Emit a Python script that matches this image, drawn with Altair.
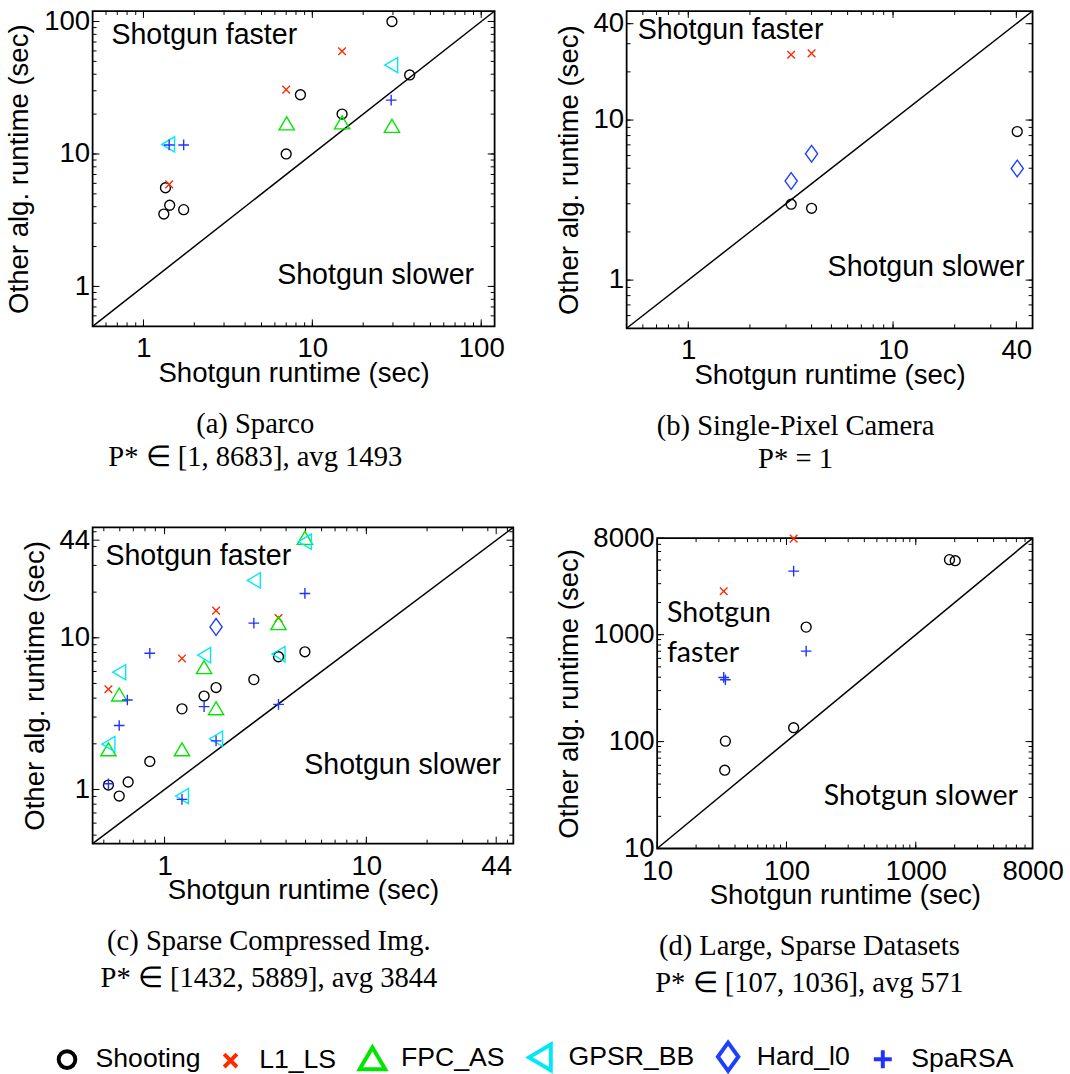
import altair as alt
import pandas as pd

# ---------------- legend / series styling ----------------
ALGS = ["Shooting", "L1_LS", "FPC_AS", "GPSR_BB", "Hard_l0", "SpaRSA"]
COLORS = ["#000000", "#ff2a00", "#00e600", "#00e8f5", "#1f3fff", "#1f33ff"]
SHAPES = [
    "M-0.65,0A0.65,0.65 0 1,0 0.65,0A0.65,0.65 0 1,0 -0.65,0Z",
    "M-0.5,-0.5L0.5,0.5M-0.5,0.5L0.5,-0.5",
    "M0,-0.85L1,0.85L-1,0.85Z",
    "M-0.85,0L0.85,-1L0.85,1Z",
    "M0,-1.1L0.8,0L0,1.1L-0.8,0Z",
    "M-0.7,0L0.7,0M0,-0.7L0,0.7",
]

# ---------------- (a) Sparco ----------------
a_alg = (["Shooting"] * 9 + ["L1_LS"] * 3 + ["FPC_AS"] * 3 + ["GPSR_BB"] * 2 + ["SpaRSA"] * 3)
a_x = [29.6, 37.7, 8.5, 15.0, 7.0, 1.35, 1.43, 1.32, 1.73,
       15.0, 7.0, 1.42,
       7.05, 15.0, 29.6,
       29.3, 1.40,
       29.3, 1.42, 1.73]
a_y = [100, 39.5, 28, 20, 10, 5.56, 4.1, 3.52, 3.8,
       59.6, 30.6, 5.9,
       17.0, 17.3, 16.3,
       46.9, 11.8,
       25.5, 11.7, 11.7]
a_dom = [0.5, 120]
a_ticks = [1, 10, 100]

# ---------------- (b) Single-Pixel Camera ----------------
b_alg = ["Shooting"] * 3 + ["L1_LS"] * 2 + ["Hard_l0"] * 3
b_x = [3.18, 4.0, 40.4, 3.18, 4.0, 3.18, 4.0, 40.4]
b_y = [2.98, 2.81, 8.47, 25.6, 26.1, 4.16, 6.16, 4.98]
b_dom = [0.5, 48]
b_ticks = [1, 10, 40]

# ---------------- (c) Sparse Compressed Img. ----------------
c_alg = (["Shooting"] * 10 + ["L1_LS"] * 4 + ["FPC_AS"] * 7 + ["GPSR_BB"] * 8
         + ["Hard_l0"] * 1 + ["SpaRSA"] * 10)
c_x = [0.527, 0.596, 0.66, 0.845, 1.22, 1.57, 1.80, 2.77, 3.67, 4.96,
       0.527, 1.22, 1.80, 3.67,
       0.527, 0.596, 1.22, 1.57, 1.80, 3.67, 4.96,
       0.527, 0.596, 1.22, 1.57, 1.80, 2.77, 3.67, 4.96,
       1.80,
       0.527, 0.596, 0.654, 0.845, 1.22, 1.57, 1.80, 2.77, 3.67, 4.96]
c_y = [1.07, 0.905, 1.12, 1.53, 3.4, 4.13, 4.7, 5.3, 7.5, 8.08,
       4.58, 7.31, 15.1, 13.5,
       1.84, 4.23, 1.84, 6.4, 3.43, 12.5, 45.6,
       1.99, 5.93, 0.905, 7.69, 2.16, 23.9, 7.8, 43.0,
       11.8,
       1.09, 2.64, 3.89, 7.91, 0.86, 3.52, 2.09, 12.5, 3.64, 19.6]
c_dom = [0.44, 53.5]
c_ticks = [1, 10, 44]

# ---------------- (d) Large, Sparse Datasets ----------------
d_alg = ["Shooting"] * 6 + ["L1_LS"] * 2 + ["SpaRSA"] * 4
d_x = [33.3, 33.7, 113.6, 142, 1823, 2018, 32.7, 113.6, 113.6, 142, 32.7, 33.7]
d_y = [54, 101, 135, 1177, 5035, 4920, 2548, 7908, 3927, 702, 398, 379]
d_dom = [10, 8000]
d_ticks = [10, 100, 1000, 8000]

# annotation anchors (data coordinates)
a_notes = [("Shotgun faster", 0.646, 78.7), ("Shotgun slower", 6.19, 1.21)]
b_notes = [("Shotgun faster", 0.566, 36.7), ("Shotgun slower", 4.79, 1.21)]
c_notes = [("Shotgun faster", 0.509, 34.7), ("Shotgun slower", 4.92, 1.44)]
d_notes = [("Shotgun\nfaster", 11.9, 1585), ("Shotgun slower", 194, 31)]

SANS = "Liberation Sans"
SERIF = "Liberation Serif"

LEG = alt.Legend(title=None, orient="none", legendX=-41, legendY=1046,
                 direction="horizontal", columns=6, symbolSize=676,
                 symbolStrokeWidth=4, labelFont=SANS, labelFontSize=27,
                 labelColor="black", labelOffset=14, columnPadding=15,
                 symbolOpacity=1)


def minor_ticks(dom):
    out = []
    d = 0.01
    while d < dom[1] * 10:
        for k in range(1, 10):
            v = k * d
            if dom[0] < v < dom[1]:
                out.append(v)
        d *= 10
    return out


def panel(alg, xs, ys, dom, ticks, notes, W, H, caption, cap_lh=34,
          note_font=SANS, note_size=29):
    xs_ = alt.Scale(type="log", domain=dom, nice=False)
    ys_ = alt.Scale(type="log", domain=dom, nice=False)
    xaxis = alt.Axis(values=ticks, format="d", ticks=False, domain=False, grid=False,
                     labelFont=SANS, labelFontSize=28, labelColor="black",
                     labelPadding=9, labelFlush=False, labelOverlap=False,
                     title="Shotgun runtime (sec)", titleFont=SANS, titleFontSize=28,
                     titleFontWeight="normal", titleColor="black", titlePadding=-3)
    yaxis = alt.Axis(values=ticks, format="d", ticks=False, domain=False, grid=False,
                     labelFont=SANS, labelFontSize=28, labelColor="black",
                     labelPadding=3, labelFlush=False, labelOverlap=False,
                     title="Other alg. runtime (sec)", titleFont=SANS, titleFontSize=28,
                     titleFontWeight="normal", titleColor="black", titlePadding=10)

    def X(f):
        return alt.X(f, scale=xs_, axis=xaxis)

    def Y(f):
        return alt.Y(f, scale=ys_, axis=yaxis)

    diag = alt.Chart(pd.DataFrame({"x": dom, "y": dom})).mark_line(
        color="black", strokeWidth=1.5).encode(x=X("x:Q"), y=Y("y:Q"))

    tmaj = pd.DataFrame({"x": ticks, "y": ticks})
    mn = minor_ticks(dom)
    tmin = pd.DataFrame({"x": mn, "y": mn})
    layers = [diag]
    for df, ln in ((tmaj, 7), (tmin, 4)):
        base = alt.Chart(df).mark_rule(color="black", strokeWidth=1)
        layers.append(base.encode(x=X("x:Q"), y=alt.value(H), y2=alt.value(H - ln)))
        layers.append(base.encode(x=X("x:Q"), y=alt.value(0), y2=alt.value(ln)))
        layers.append(base.encode(y=Y("y:Q"), x=alt.value(0), x2=alt.value(ln)))
        layers.append(base.encode(y=Y("y:Q"), x=alt.value(W), x2=alt.value(W - ln)))

    pts = alt.Chart(pd.DataFrame({"alg": alg, "x": xs, "y": ys})).mark_point(
        filled=False, size=240, strokeWidth=1.4, opacity=1).encode(
        x=X("x:Q"), y=Y("y:Q"),
        color=alt.Color("alg:N", scale=alt.Scale(domain=ALGS, range=COLORS), legend=LEG),
        shape=alt.Shape("alg:N", scale=alt.Scale(domain=ALGS, range=SHAPES), legend=LEG))
    layers.append(pts)

    nd = pd.DataFrame({"t": [n[0] for n in notes], "x": [n[1] for n in notes],
                       "y": [n[2] for n in notes]})
    txt = alt.Chart(nd).mark_text(align="left", baseline="middle", font=note_font,
                                  fontSize=note_size, color="black", lineBreak="\n",
                                  lineHeight=40).encode(
        x=X("x:Q"), y=Y("y:Q"), text="t:N")
    layers.append(txt)

    return alt.layer(*layers).properties(
        width=W, height=H,
        title=alt.TitleParams(text=caption, orient="bottom", anchor="middle",
                              frame="bounds", font=SERIF, fontSize=29,
                              fontWeight="normal", color="black", offset=23,
                              lineHeight=cap_lh))


pa = panel(a_alg, a_x, a_y, a_dom, a_ticks, a_notes, 408, 320,
           ["(a) Sparco", "P* ∈ [1, 8683], avg 1493"])
pb = panel(b_alg, b_x, b_y, b_dom, b_ticks, b_notes, 412, 322,
           ["(b) Single-Pixel Camera", "P* = 1"])
pc = panel(c_alg, c_x, c_y, c_dom, c_ticks, c_notes, 427, 321,
           ["(c) Sparse Compressed Img.", "P* ∈ [1432, 5889], avg 3844"], cap_lh=38)
pd_ = panel(d_alg, d_x, d_y, d_dom, d_ticks, d_notes, 381, 315,
            ["(d) Large, Sparse Datasets", "P* ∈ [107, 1036], avg 571"], cap_lh=38,
            note_font="Lato", note_size=29)

chart = alt.concat(pa, pb, pc, pd_, columns=2, align="none",
                   spacing={"row": 49, "column": 37}).resolve_scale(
    color="shared", shape="shared").properties(
    padding={"left": 5, "top": -2, "right": 5, "bottom": 8},
    background="white").configure_view(stroke="black", strokeWidth=1.8)

chart.save("out.html", embed_options={"renderer": "svg", "actions": False})
